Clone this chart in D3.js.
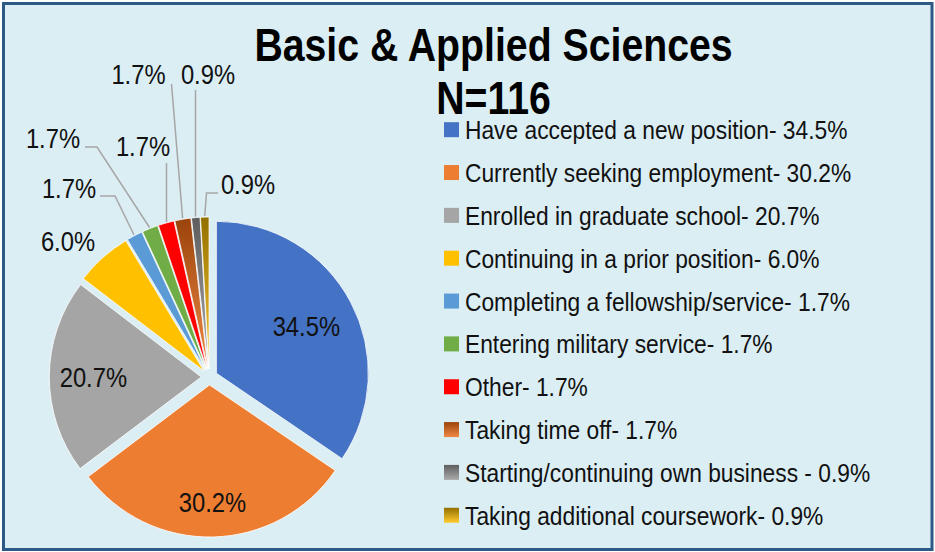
<!DOCTYPE html>
<html>
<head>
<meta charset="utf-8">
<script src="https://cdn.jsdelivr.net/npm/d3@7"></script>
<style>
  html, body { margin: 0; padding: 0; background: #fff; }
  svg { display: block; }
  text { font-family: "Liberation Sans", Arial, sans-serif; }
</style>
</head>
<body>
<div id="chart-area"></div>
<script>
/*
*    Basic & Applied Sciences - pie chart
*/

// Data
var categories = [
    "Have accepted a new position- 34.5%",
    "Currently seeking employment- 30.2%",
    "Enrolled in graduate school- 20.7%",
    "Continuing in a prior position- 6.0%",
    "Completing a fellowship/service- 1.7%",
    "Entering military service- 1.7%",
    "Other- 1.7%",
    "Taking time off- 1.7%",
    "Starting/continuing own business - 0.9%",
    "Taking additional coursework- 0.9%"
];
var values = [34.5, 30.2, 20.7, 6.0, 1.7, 1.7, 1.7, 1.7, 0.9, 0.9];
var valueLabels = ["34.5%", "30.2%", "20.7%", "6.0%", "1.7%", "1.7%", "1.7%", "1.7%", "0.9%", "0.9%"];
var titleLines = ["Basic & Applied Sciences", "N=116"];

// Colours (solid or [top, bottom] gradient)
var colors = [
    "#4472C4", "#ED7D31", "#A5A5A5", "#FFC000", "#5B9BD5", "#70AD47", "#FF0000",
    ["#9A430B", "#F08A45"],
    ["#5E5E5E", "#ABABAB"],
    ["#936F00", "#FFCB2E"]
];

// The original uses a narrow face; squeeze the regular one horizontally
var narrow = 0.835, legendNarrow = 0.86;
function place(x, y, sx) {
    return "translate(" + x + "," + y + ") scale(" + sx + ",1)";
}

// Setting up svg area
var width = 935, height = 552;

var svg = d3.select("#chart-area")
    .append("svg")
        .attr("width", width)
        .attr("height", height);

// Background + frame
svg.append("rect")
    .attr("x", 3.5).attr("y", 3.5)
    .attr("width", 928.5).attr("height", 546)
    .attr("fill", "#DBEEF4")
    .attr("stroke", "#2C5985")
    .attr("stroke-width", 3);

// Gradients
var defs = svg.append("defs");
colors.forEach(function(c, i) {
    if (Array.isArray(c)) {
        var grad = defs.append("linearGradient")
            .attr("id", "grad" + i)
            .attr("x1", 0).attr("y1", 0)
            .attr("x2", 0).attr("y2", 1);
        grad.append("stop").attr("offset", "0%").attr("stop-color", c[0]);
        grad.append("stop").attr("offset", "100%").attr("stop-color", c[1]);
    }
});
function fillOf(i) {
    return Array.isArray(colors[i]) ? "url(#grad" + i + ")" : colors[i];
}

// Title
svg.selectAll(".title")
    .data(titleLines)
    .enter().append("text")
        .attr("class", "title")
        .attr("transform", function(d, i) { return place(493.5, 61 + i * 52.5, narrow); })
        .attr("text-anchor", "middle")
        .attr("font-size", "47px")
        .attr("font-weight", "bold")
        .attr("fill", "#000")
        .text(function(d) { return d; });

// Pie
var cx = 209.3, cy = 377, radius = 152, explode = 8;

var pie = d3.pie().sort(null).value(function(d) { return d; });
var arcs = pie(values);
var arc = d3.arc().innerRadius(0).outerRadius(radius);

function mid(d) { return (d.startAngle + d.endAngle) / 2; }
function offset(d, r) {
    var a = mid(d);
    return [Math.sin(a) * r, -Math.cos(a) * r];
}

var pieG = svg.append("g")
    .attr("transform", "translate(" + cx + "," + cy + ")");

pieG.selectAll("path.slice")
    .data(arcs)
    .enter().append("path")
        .attr("class", "slice")
        .attr("d", arc)
        .attr("transform", function(d) {
            var o = offset(d, explode);
            return "translate(" + o[0] + "," + o[1] + ")";
        })
        .attr("fill", function(d, i) { return fillOf(i); })
        .attr("stroke", "#ffffff")
        .attr("stroke-width", 0.8);

// Inside labels for the big slices
var insideR = [0.67, 0.77, 0.71];
pieG.selectAll("text.inlabel")
    .data(arcs.slice(0, 3))
    .enter().append("text")
        .attr("class", "inlabel")
        .attr("transform", function(d, i) {
            var p = offset(d, explode + radius * insideR[i]);
            return place(p[0], p[1] + 10.3, narrow);
        })
        .attr("text-anchor", "middle")
        .attr("font-size", "28.5px")
        .attr("fill", "#111")
        .text(function(d, i) { return valueLabels[i]; });

// Outside labels (manually placed in the original) and their leader lines
var outside = [
    { i: 3, x: 68,    y: 251,   knee: null },
    { i: 4, x: 69,    y: 198,   knee: [[100, 196], [115, 196]] },
    { i: 5, x: 53,    y: 148,   knee: [[85, 147], [97, 147]] },
    { i: 6, x: 143,   y: 156,   knee: [[166.5, 163]] },
    { i: 7, x: 138.5, y: 84,    knee: [[171.5, 84]] },
    { i: 8, x: 208,   y: 84,    knee: [[195.5, 90]] },
    { i: 9, x: 248,   y: 194,   knee: [[218, 193], [206.5, 193]] }
];

var line = d3.line();
svg.selectAll("path.leader")
    .data(outside.filter(function(o) { return o.knee; }))
    .enter().append("path")
        .attr("class", "leader")
        .attr("d", function(o) {
            var e = offset(arcs[o.i], radius + explode + 1);
            var end = [cx + e[0], cy + e[1]];
            // keep vertical leaders vertical
            var last = o.knee[o.knee.length - 1];
            if (o.knee.length === 1 && Math.abs(last[0] - end[0]) < 2.5) end[0] = last[0];
            return line(o.knee.concat([end]));
        })
        .attr("fill", "none")
        .attr("stroke", "#A6A6A6")
        .attr("stroke-width", 1.5);

svg.selectAll("text.outlabel")
    .data(outside)
    .enter().append("text")
        .attr("class", "outlabel")
        .attr("transform", function(o) { return place(o.x, o.y, narrow); })
        .attr("text-anchor", "middle")
        .attr("font-size", "28.5px")
        .attr("fill", "#111")
        .text(function(o) { return valueLabels[o.i]; });

// Legend
var legend = svg.append("g")
    .attr("transform", "translate(444, 129.7)");

var rows = legend.selectAll("g.row")
    .data(categories)
    .enter().append("g")
        .attr("class", "row")
        .attr("transform", function(d, i) { return "translate(0," + (i * 42.84) + ")"; });

rows.append("rect")
    .attr("x", 0).attr("y", -7.5)
    .attr("width", 15).attr("height", 15)
    .attr("fill", function(d, i) { return fillOf(i); });

rows.append("text")
    .attr("transform", place(21, 9.5, legendNarrow))
    .attr("font-size", "26.5px")
    .attr("fill", "#111")
    .text(function(d) { return d; });
</script>
</body>
</html>
